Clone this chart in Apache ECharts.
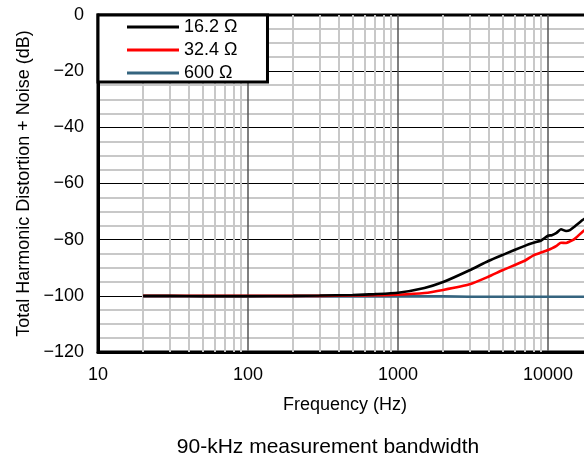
<!DOCTYPE html>
<html>
<head>
<meta charset="utf-8">
<script src="https://cdn.jsdelivr.net/npm/echarts@6/dist/echarts.min.js"></script>
<style>
  html, body { margin: 0; padding: 0; background: #fff; }
  #main { width: 584px; height: 460px; }
</style>
</head>
<body>
<div id="main"></div>
<script>
// frequency points (Hz)
var freqs = [20, 30, 50, 100, 200, 300, 500, 700, 1000, 1500, 2000, 3000, 4000, 5000, 7000, 8000, 9000, 10000, 10600, 11400, 12200, 13200, 14000, 15000, 17000, 20000];
// THD+N in dB per load
var thd16 = [-100, -100, -100.1, -100.1, -100, -99.9, -99.7, -99.4, -98.9, -97.2, -95.1, -90.9, -87.6, -85.4, -82.2, -81.1, -80.3, -78.6, -78.4, -77.6, -76.3, -76.9, -76.6, -75.4, -73, -70.5];
var thd32 = [-100, -100, -100, -100, -100, -100, -99.9, -99.8, -99.6, -99, -97.9, -95.9, -93.2, -90.8, -87.5, -85.6, -84.6, -83.7, -83.1, -82.2, -81.1, -81.2, -80.6, -79.8, -77.2, -74.5];
var thd600 = [-100.2, -100.2, -100.2, -100.2, -100.2, -100.2, -100.2, -100.2, -100.2, -100.2, -100.2, -100.3, -100.3, -100.3, -100.3, -100.3, -100.3, -100.3, -100.3, -100.3, -100.3, -100.3, -100.3, -100.3, -100.3, -100.3];
var seriesNames = ['16.2 Ω', '32.4 Ω', '600 Ω'];
var seriesColors = ['#000000', '#ff0000', '#35647f'];

var font = 'Liberation Sans';

function pairs(vals) {
  return freqs.map(function (f, i) { return [f, vals[i]]; });
}

// minor log grid: 2..9 in every decade
var minorX = [];
for (var d = 10; d < 100000; d *= 10) {
  for (var k = 2; k <= 9; k++) minorX.push(d * k);
}

var chart = echarts.init(document.getElementById('main'));

var option = {
  animation: false,
  backgroundColor: '#fff',
  grid: {
    left: 98, top: 15, width: 600, height: 337,
    containLabel: false,
    outerBoundsMode: 'none',
    show: true, borderColor: '#000', borderWidth: 3
  },
  legend: {
    data: seriesNames,
    orient: 'vertical',
    left: 98, top: 15,
    padding: [3, 30, 0, 29],
    itemGap: 5,
    itemWidth: 52, itemHeight: 3,
    icon: 'rect',
    z: 10,
    backgroundColor: '#fff',
    borderColor: '#000',
    borderWidth: 3,
    borderRadius: 0,
    textStyle: { fontFamily: font, fontSize: 18, color: '#000' }
  },
  xAxis: {
    type: 'log',
    logBase: 10,
    min: 10, max: 100000,
    axisLine: { show: true, onZero: false, lineStyle: { color: '#000', width: 3 } },
    axisTick: { show: false },
    axisLabel: {
      margin: 14,
      fontFamily: font, fontSize: 18, color: '#000',
      formatter: function (v) { return String(v); }
    },
    splitLine: { show: true, lineStyle: { color: '#555', width: 1.5 } }
  },
  yAxis: {
    type: 'value',
    min: -120, max: 0, interval: 20,
    name: 'Total Harmonic Distortion + Noise (dB)',
    nameLocation: 'middle',
    nameGap: 62,
    nameTextStyle: { fontFamily: font, fontSize: 18, color: '#000' },
    axisLine: { show: true, lineStyle: { color: '#000', width: 3 } },
    axisTick: { show: false },
    axisLabel: {
      margin: 14,
      fontFamily: font, fontSize: 18, color: '#000',
      formatter: function (v) { return v === 0 ? '0' : '\u2212' + Math.abs(v); }
    },
    splitLine: { show: true, lineStyle: { color: '#000', width: 1 } },
    minorTick: { show: false, splitNumber: 4 },
    minorSplitLine: { show: true, lineStyle: { color: '#c8c8c8', width: 2 } }
  },
  graphic: [
    { type: 'text', x: 345, y: 396, style: { text: 'Frequency (Hz)', fontFamily: font, fontSize: 18, fill: '#000', textAlign: 'center' } },
    { type: 'text', x: 328, y: 437, style: { text: '90-kHz measurement bandwidth', fontFamily: font, fontSize: 21, fill: '#000', textAlign: 'center' } }
  ],
  series: [
    {
      name: 'grid-minor',
      type: 'line',
      data: [],
      z: 1,
      silent: true,
      markLine: {
        z: 1,
        silent: true,
        symbol: ['none', 'none'],
        label: { show: false },
        lineStyle: { color: '#c8c8c8', width: 2, type: 'solid' },
        data: minorX.map(function (v) { return { xAxis: v }; })
      }
    },
    {
      name: seriesNames[0], type: 'line', data: pairs(thd16), z: 5, smooth: 0.2,
      showSymbol: false, color: seriesColors[0], lineStyle: { width: 2.6 }
    },
    {
      name: seriesNames[1], type: 'line', data: pairs(thd32), z: 4, smooth: 0.2,
      showSymbol: false, color: seriesColors[1], lineStyle: { width: 2.6 }
    },
    {
      name: seriesNames[2], type: 'line', data: pairs(thd600), z: 3,
      showSymbol: false, color: seriesColors[2], lineStyle: { width: 2.6 }
    }
  ]
};

chart.setOption(option);
</script>
</body>
</html>
